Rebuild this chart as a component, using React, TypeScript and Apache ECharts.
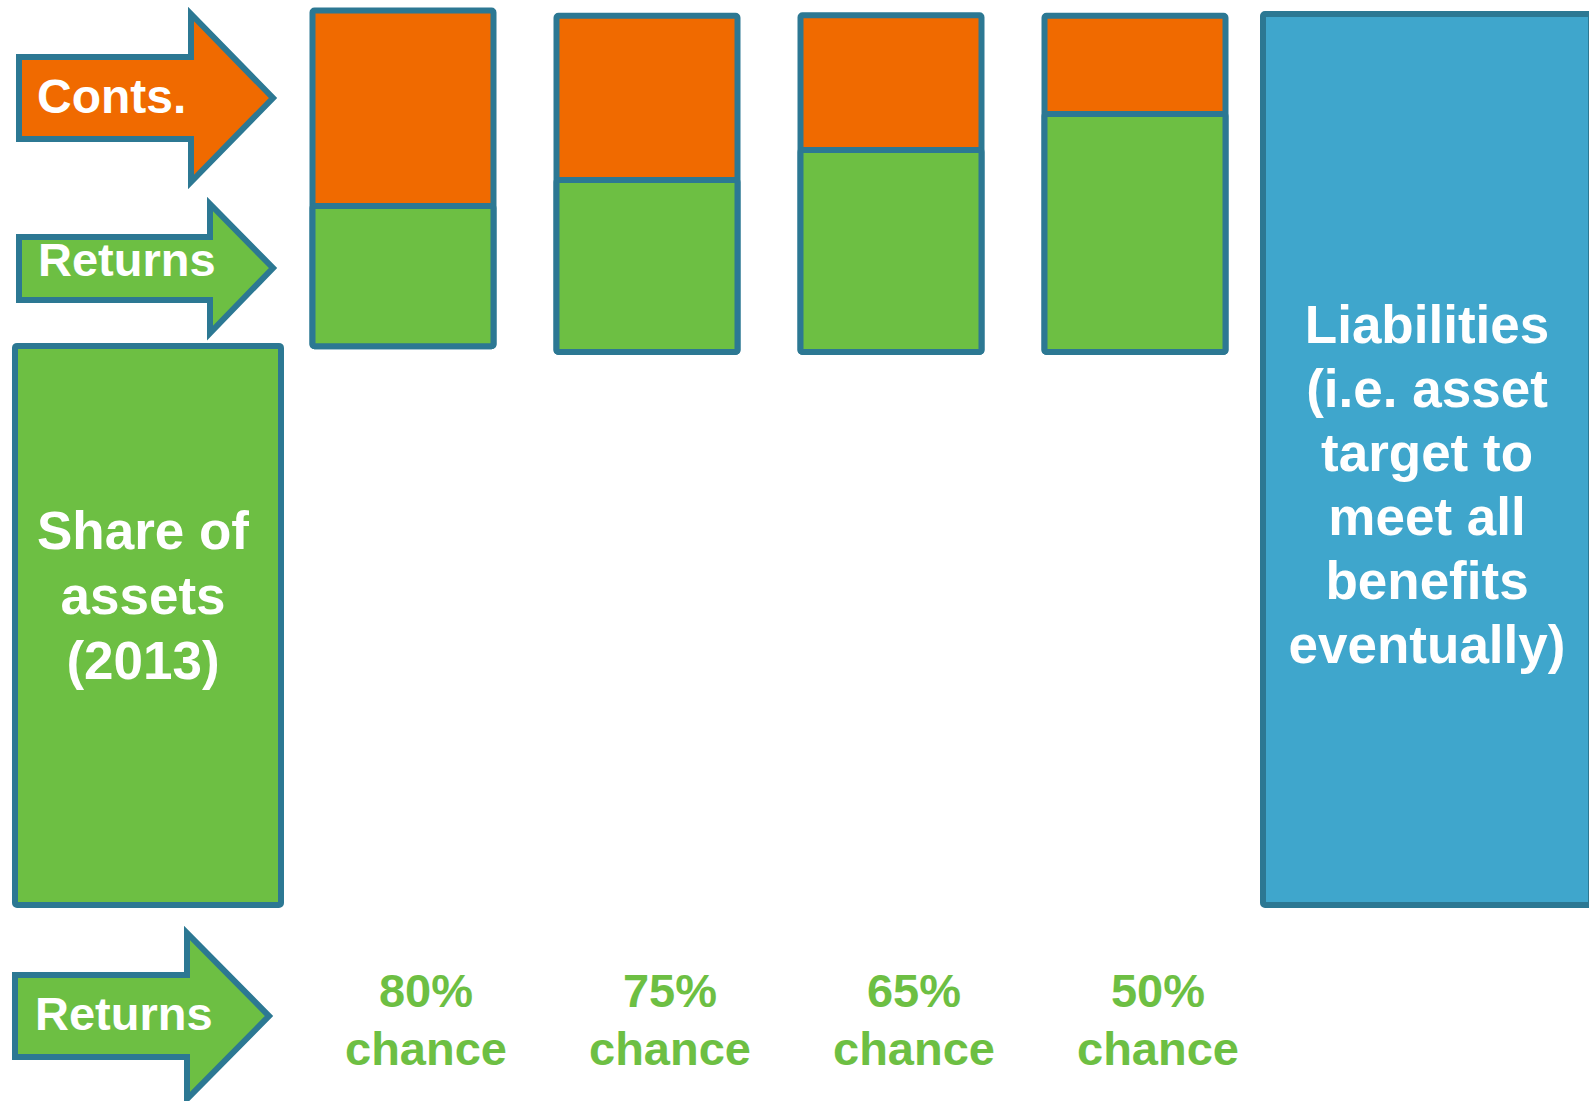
import React, { useEffect, useRef } from "react";
import * as echarts from "echarts";

// ---- data ----
const categories = ["80%\nchance", "75%\nchance", "65%\nchance", "50%\nchance"];
const assetShareBase = [62.3, 61.65, 61.65, 61.65];
const returnsValues = [16.3, 19.85, 23.2, 27.2];
const contsValues = [21.8, 18.3, 15.0, 10.95];
const shareOfAssets2013 = [63.0];
const liabilities = [100];
const shareLabel = "Share of\nassets\n(2013)";
const liabilitiesLabel = "Liabilities\n(i.e. asset\ntarget to\nmeet all\nbenefits\neventually)";

const GREEN = "#6DBF43";
const ORANGE = "#F06A00";
const BLUE = "#3FA6CC";
const BORDER = "#2C7893";
const FONT = "'Liberation Sans', Arial, sans-serif";

const hiddenY = (i: number) => ({
  type: "value",
  gridIndex: i,
  min: 0,
  max: 100,
  show: false,
});

export default function App() {
  const ref = useRef<HTMLDivElement>(null);
  useEffect(() => {
    document.body.style.margin = "0";
    const chart = echarts.init(ref.current!, null, { renderer: "svg" });
    const boxStyle = (color: string) => ({
      color,
      borderColor: BORDER,
      borderWidth: 6,
      borderRadius: 2,
    });
    const totals = returnsValues.map((r, i) => r + contsValues[i]);
    const barCommon = {
      type: "bar",
      xAxisIndex: 1,
      yAxisIndex: 1,
      barWidth: 187,
      barGap: "-100%",
      clip: false,
      silent: true,
    };
    const option: any = {
      animation: false,
      grid: [
        { left: 12, top: 11, width: 272, height: 897, outerBoundsMode: "none" },
        { left: 281, top: 11, width: 976, height: 897, outerBoundsMode: "none" },
        { left: 1260, top: 11, width: 334, height: 897, outerBoundsMode: "none" },
      ],
      xAxis: [
        { type: "category", gridIndex: 0, data: ["share"], show: false },
        {
          type: "category",
          gridIndex: 1,
          data: categories,
          axisLine: { show: false },
          axisTick: { show: false },
          axisLabel: {
            color: GREEN,
            fontSize: 47,
            fontWeight: "bold",
            fontFamily: FONT,
            lineHeight: 58,
            margin: 53,
            padding: [0, 0, 0, 46],
          },
        },
        { type: "category", gridIndex: 2, data: ["liabilities"], show: false },
      ],
      yAxis: [hiddenY(0), hiddenY(1), hiddenY(2)],
      series: [
        {
          type: "bar",
          xAxisIndex: 0,
          yAxisIndex: 0,
          data: shareOfAssets2013,
          barWidth: "100%",
          clip: false,
          silent: true,
          itemStyle: boxStyle(GREEN),
          label: {
            show: true,
            position: "inside",
            formatter: shareLabel,
            color: "#fff",
            fontSize: 53,
            fontWeight: "bold",
            fontFamily: FONT,
            lineHeight: 65,
            offset: [-5, -30],
          },
        },
        // contributions: drawn as the full block (returns + conts) behind the returns block
        {
          ...barCommon,
          stack: "total",
          data: assetShareBase,
          itemStyle: { color: "rgba(0,0,0,0)", borderWidth: 0 },
        },
        {
          ...barCommon,
          name: "Conts.",
          stack: "total",
          data: totals,
          itemStyle: boxStyle(ORANGE),
        },
        {
          ...barCommon,
          stack: "returns",
          data: assetShareBase,
          itemStyle: { color: "rgba(0,0,0,0)", borderWidth: 0 },
        },
        {
          ...barCommon,
          name: "Returns",
          stack: "returns",
          data: returnsValues,
          itemStyle: boxStyle(GREEN),
        },
        {
          type: "bar",
          xAxisIndex: 2,
          yAxisIndex: 2,
          data: liabilities,
          barWidth: "100%",
          clip: false,
          silent: true,
          itemStyle: boxStyle(BLUE),
          label: {
            show: true,
            position: "inside",
            formatter: liabilitiesLabel,
            color: "#fff",
            fontSize: 53,
            fontWeight: "bold",
            fontFamily: FONT,
            lineHeight: 64,
            offset: [0, 25],
          },
        },
      ],
      graphic: [
        {
          type: "polygon",
          shape: {
            points: [
              [19, 57], [191, 57], [191, 14], [273, 98], [191, 182], [191, 139], [19, 139],
            ],
          },
          style: { fill: ORANGE, stroke: BORDER, lineWidth: 6 },
        },
        {
          type: "text",
          left: 37,
          top: 72,
          style: { text: "Conts.", fill: "#fff", font: `bold 48px ${FONT}` },
        },
        {
          type: "polygon",
          shape: {
            points: [
              [19, 237], [210, 237], [210, 204], [273, 268], [210, 333], [210, 300], [19, 300],
            ],
          },
          style: { fill: GREEN, stroke: BORDER, lineWidth: 6 },
        },
        {
          type: "text",
          left: 38,
          top: 236,
          style: { text: "Returns", fill: "#fff", font: `bold 47px ${FONT}` },
        },
        {
          type: "polygon",
          shape: {
            points: [
              [15, 975], [187, 975], [187, 933], [269, 1016], [187, 1099], [187, 1057], [15, 1057],
            ],
          },
          style: { fill: GREEN, stroke: BORDER, lineWidth: 6 },
        },
        {
          type: "text",
          left: 35,
          top: 990,
          style: { text: "Returns", fill: "#fff", font: `bold 47px ${FONT}` },
        },
      ],
    };
    chart.setOption(option);
    return () => chart.dispose();
  }, []);
  return <div ref={ref} style={{ width: 1589, height: 1101 }} />;
}
